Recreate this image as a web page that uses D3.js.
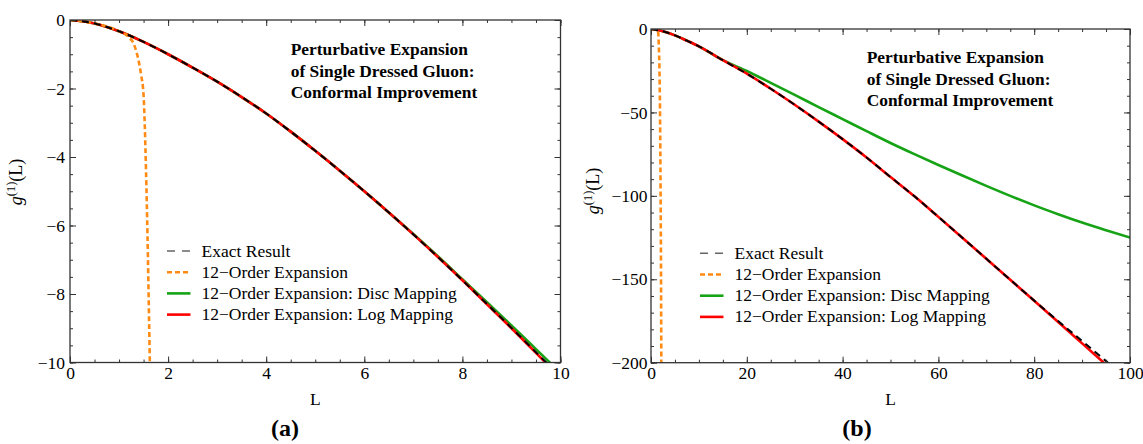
<!DOCTYPE html>
<html><head><meta charset="utf-8">
<script src="https://cdn.jsdelivr.net/npm/d3@7"></script>
<style>
body{margin:0;background:#fff}
svg{display:block}
text{font-family:"Liberation Serif","Times New Roman",serif;fill:#000}
</style>
</head><body>
<svg id="c" width="1143" height="444"></svg>
<script>
// ---------- data ----------
// panel (a): L from 0 to 10
const LA      = [0, 0.5, 1, 1.5, 2, 2.5, 3, 3.5, 4, 4.5, 5, 5.5, 6, 6.5, 7, 7.5, 8, 8.5, 9, 9.5, 10];
const exactA  = [0, -0.1, -0.33, -0.64, -1.0, -1.39, -1.8, -2.25, -2.73, -3.26, -3.82, -4.4, -5.0, -5.62, -6.26, -6.92, -7.6, -8.29, -8.99, -9.7, -10.42];
const discA   = [0, -0.1, -0.33, -0.64, -1.0, -1.39, -1.8, -2.25, -2.73, -3.26, -3.82, -4.4, -5.0, -5.62, -6.25, -6.9, -7.57, -8.24, -8.92, -9.61, -10.3];
const logA    = [0, -0.1, -0.33, -0.64, -1.0, -1.39, -1.8, -2.25, -2.73, -3.26, -3.82, -4.4, -5.0, -5.62, -6.26, -6.92, -7.6, -8.3, -9.0, -9.72, -10.45];
// panel (b): L from 0 to 100
const LB      = [0, 2.5, 5, 7.5, 10, 15, 20, 25, 30, 35, 40, 45, 50, 55, 60, 65, 70, 75, 80, 85, 90, 95, 100];
const exactB  = [0, -1.4, -3.8, -7.0, -10.4, -18.7, -26.8, -35.8, -45.4, -55.5, -66, -77, -88.7, -100.3, -112.6, -125.1, -137.7, -150.3, -162.8, -175.0, -187.0, -199.0, -211.0];
const discB   = [0, -1.4, -3.8, -7.0, -10.4, -18.6, -25.2, -32.3, -39.5, -46.8, -54, -61.2, -68.3, -75, -81.5, -87.8, -94, -100, -105.7, -111, -116, -120.6, -125];
const logB    = [0, -1.4, -3.8, -7.0, -10.4, -18.7, -26.8, -35.8, -45.4, -55.5, -66, -77, -88.7, -100.3, -112.6, -125.1, -137.7, -150.3, -162.9, -175.6, -188.4, -201.2, -214.0];
// 12-order expansion (both panels)
const LO      = [0, 0.5, 1.0, 1.2, 1.3, 1.4, 1.45, 1.5, 1.55, 1.58, 1.61, 1.64, 1.7, 1.8, 1.9, 2.0, 2.1, 2.2];
const orderO  = [0, -0.1, -0.33, -0.5, -0.7, -1.2, -1.6, -2.2, -4.4, -6.3, -8.6, -11.0, -16, -30, -55, -95, -155, -250];
// ticks
const xTicksA = [0, 2, 4, 6, 8, 10];
const yTicksA = [0, -2, -4, -6, -8, -10];
const xTicksB = [0, 20, 40, 60, 80, 100];
const yTicksB = [0, -50, -100, -150, -200];
const legendLabels = ["Exact Result", "12\u2212Order Expansion", "12\u2212Order Expansion: Disc Mapping", "12\u2212Order Expansion: Log Mapping"];
const titleLines = ["Perturbative Expansion", "of Single Dressed Gluon:", "Conformal Improvement"];

// ---------- drawing ----------
const svg = d3.select("#c");
const fmt = d => d < 0 ? "\u2212" + Math.abs(d) : String(d);

function panel(o) {
  const x = d3.scaleLinear().domain(o.xd).range(o.xr);
  const y = d3.scaleLinear().domain(o.yd).range(o.yr);
  const g = svg.append("g");
  g.append("clipPath").attr("id", o.id).append("rect")
    .attr("x", o.xr[0]).attr("y", o.yr[1]).attr("width", o.xr[1]-o.xr[0]).attr("height", o.yr[0]-o.yr[1]);
  const line = (xs, ys) => d3.line().x((d,i)=>x(xs[i])).y((d,i)=>y(ys[i])).curve(d3.curveMonotoneX)(ys);
  const plot = g.append("g").attr("clip-path", `url(#${o.id})`);
  plot.append("path").attr("d", line(o.L, o.disc)).attr("fill","none").attr("stroke","#16a316").attr("stroke-width",2.6);
  plot.append("path").attr("d", line(o.L, o.log)).attr("fill","none").attr("stroke","#ff0000").attr("stroke-width",2.6);
  plot.append("path").attr("d", line(LO, orderO)).attr("fill","none").attr("stroke","#ff8a14").attr("stroke-width",2.6).attr("stroke-dasharray","5,3");
  plot.append("path").attr("d", line(o.L, o.exact)).attr("fill","none").attr("stroke","#000").attr("stroke-width",2).attr("stroke-dasharray","7,5");

  // axes
  const minorX = d3.range(o.xd[0], o.xd[1] + 1e-9, o.xMinor);
  const minorY = d3.range(o.yd[0], o.yd[1] + 1e-9, o.yMinor);
  const styleAx = s => { s.attr("font-family", null); s.select(".domain").remove(); s.selectAll("line").attr("stroke","#333").attr("stroke-width",1); s.selectAll("text").attr("font-size",17.5).attr("fill","#000"); };
  const H = o.yr[0], T = o.yr[1], Lx = o.xr[0], R = o.xr[1];
  g.append("g").attr("transform",`translate(0,${H})`).call(d3.axisBottom(x).tickValues(minorX).tickSize(-3).tickFormat("")).call(styleAx);
  g.append("g").attr("transform",`translate(0,${H})`).call(d3.axisBottom(x).tickValues(o.xTicks).tickSize(-6).tickSizeOuter(0).tickPadding(4).tickFormat(fmt)).call(styleAx);
  g.append("g").attr("transform",`translate(0,${T})`).call(d3.axisTop(x).tickValues(minorX).tickSize(-3).tickFormat("")).call(styleAx);
  g.append("g").attr("transform",`translate(0,${T})`).call(d3.axisTop(x).tickValues(o.xTicks).tickSize(-6).tickFormat("")).call(styleAx);
  g.append("g").attr("transform",`translate(${Lx},0)`).call(d3.axisLeft(y).tickValues(minorY).tickSize(-3).tickFormat("")).call(styleAx);
  g.append("g").attr("transform",`translate(${Lx},0)`).call(d3.axisLeft(y).tickValues(o.yTicks).tickSize(-6).tickPadding(o.yPad).tickFormat(fmt)).call(styleAx);
  g.append("g").attr("transform",`translate(${R},0)`).call(d3.axisRight(y).tickValues(minorY).tickSize(-3).tickFormat("")).call(styleAx);
  g.append("g").attr("transform",`translate(${R},0)`).call(d3.axisRight(y).tickValues(o.yTicks).tickSize(-6).tickFormat("")).call(styleAx);
  g.append("rect").attr("x",Lx).attr("y",T).attr("width",R-Lx).attr("height",H-T).attr("fill","none").attr("stroke","#333").attr("stroke-width",1.3);

  // axis labels
  g.append("text").attr("x",(Lx+R)/2).attr("y",405).attr("text-anchor","middle").attr("font-size",17.5).text("L");
  const yl = g.append("text").attr("transform",`translate(${o.ylx},${o.yly}) rotate(-90)`).attr("text-anchor","middle").attr("font-size",18);
  yl.append("tspan").attr("font-style","italic").text("g");
  yl.append("tspan").attr("font-size",12.5).attr("dy",-7.5).text("(1)");
  yl.append("tspan").attr("dy",7.5).text("(L)");

  // title
  titleLines.forEach((t,i)=>g.append("text").attr("x",o.tx).attr("y",o.ty + i*21.5).attr("font-size",17.4).attr("font-weight","bold").text(t));

  // legend
  const styles = [
    {c:"#666", w:1.4, d:"8,7"},
    {c:"#ff8a14", w:2.6, d:"5,3"},
    {c:"#16a316", w:2.6, d:null},
    {c:"#ff0000", w:2.6, d:null}
  ];
  legendLabels.forEach((t,i)=>{
    const cy = o.ly + i*21.2;
    const s = styles[i];
    const ln = g.append("line").attr("x1",o.lx).attr("x2",o.lx+23.5).attr("y1",cy).attr("y2",cy).attr("stroke",s.c).attr("stroke-width",s.w);
    if (s.d) ln.attr("stroke-dasharray",s.d);
    g.append("text").attr("x",o.lx+34.5).attr("y",cy+5.5).attr("font-size",17.5).text(t);
  });

  // caption
  g.append("text").attr("x",o.cx).attr("y",436).attr("text-anchor","middle").attr("font-size",24).attr("font-weight","bold").text(o.cap);
}

panel({id:"clipA", xd:[0,10], xr:[70,560.5], yd:[-10,0], yr:[362.5,20],
  L:LA, exact:exactA, disc:discA, log:logA, xTicks:xTicksA, yTicks:yTicksA, xMinor:0.5, yMinor:0.5, yPad:5,
  ylx:22, yly:182, tx:290.7, ty:55, lx:167, ly:251, cx:285, cap:"(a)"});
panel({id:"clipB", xd:[0,100], xr:[651,1130], yd:[-200,0], yr:[362.7,29],
  L:LB, exact:exactB, disc:discB, log:logB, xTicks:xTicksB, yTicks:yTicksB, xMinor:5, yMinor:10, yPad:3.5,
  ylx:599, yly:191, tx:866.7, ty:63.3, lx:700, ly:253.3, cx:857, cap:"(b)"});
</script>
</body></html>
